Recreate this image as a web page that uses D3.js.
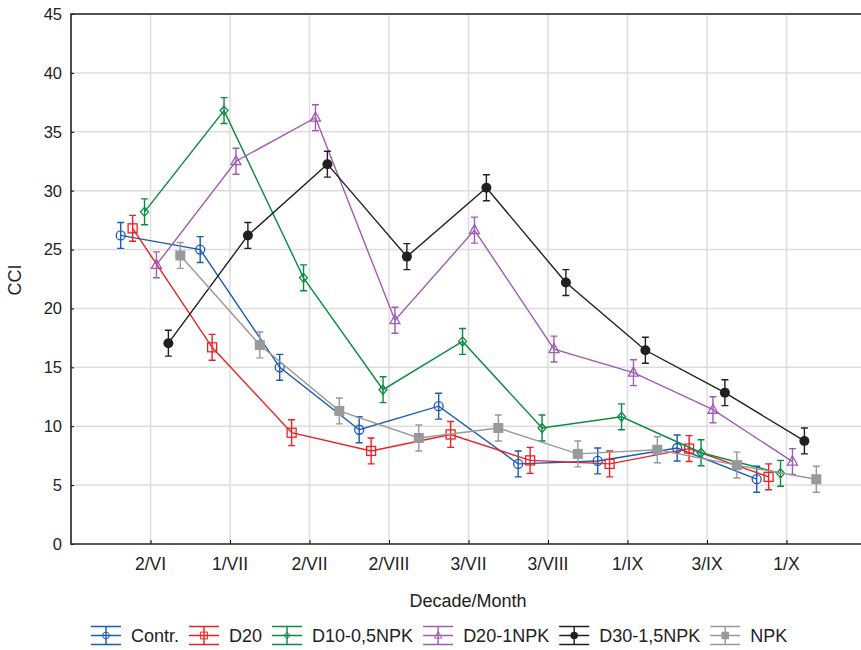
<!DOCTYPE html>
<html lang="en">
  <head>
    <meta charset="UTF-8" />
    <title>CCI by decade</title>
    <script src="https://cdn.jsdelivr.net/npm/d3@7"></script>
    <style>
      body { margin: 0; background: #fff; }
      text { font-family: "Liberation Sans", Arial, sans-serif; fill: #222; }
    </style>
  </head>

  <body>
    <div id="chart"></div>

    <script>
      var width = 861;
      var height = 650;
      var margin = { top: 14, right: -5, bottom: 106, left: 71 };

      // data
      var categories = ["2/VI", "1/VII", "2/VII", "2/VIII", "3/VII", "3/VIII", "1/IX", "3/IX", "1/X"];
      var seriesNames = ["Contr.", "D20", "D10-0,5NPK", "D20-1NPK", "D30-1,5NPK", "NPK"];
      var contr    = [26.2, 25.0, 15.0, 9.7, 11.7, 6.8, 7.05, 8.15, 5.5];
      var d20      = [26.8, 16.7, 9.45, 7.9, 9.3, 7.1, 6.8, 8.1, 5.7];
      var d10npk   = [28.2, 36.8, 22.6, 13.1, 17.2, 9.85, 10.8, 7.75, 6.0];
      var d20npk   = [23.7, 32.5, 36.2, 19.0, 26.65, 16.55, 14.55, 11.4, 7.0];
      var d30npk   = [17.05, 26.2, 32.25, 24.4, 30.25, 22.2, 16.45, 12.85, 8.75];
      var npk      = [24.5, 16.9, 11.3, 9.0, 9.85, 7.65, 8.0, 6.7, 5.5];
      var contrErr  = [1.1, 1.1, 1.1, 1.1, 1.1, 1.1, 1.1, 1.1, 1.1];
      var d20Err    = [1.1, 1.1, 1.1, 1.1, 1.1, 1.1, 1.1, 1.1, 1.1];
      var d10npkErr = [1.1, 1.1, 1.1, 1.1, 1.1, 1.1, 1.1, 1.1, 1.1];
      var d20npkErr = [1.1, 1.1, 1.1, 1.1, 1.1, 1.1, 1.1, 1.1, 1.1];
      var d30npkErr = [1.1, 1.1, 1.1, 1.1, 1.1, 1.1, 1.1, 1.1, 1.1];
      var npkErr    = [1.1, 1.1, 1.1, 1.1, 1.1, 1.1, 1.1, 1.1, 1.1];
      var yTicks = [0, 5, 10, 15, 20, 25, 30, 35, 40, 45];

      var seriesValues = [contr, d20, d10npk, d20npk, d30npk, npk];
      var seriesErrors = [contrErr, d20Err, d10npkErr, d20npkErr, d30npkErr, npkErr];
      var colors = ["#1a5bb5", "#ee2024", "#0c8a43", "#a05bb4", "#202020", "#999999"];
      var markers = ["circle", "square", "diamond", "triangle", "dot", "block"];
      // horizontal dodge, in category units
      var dodge = [-0.375, -0.225, -0.075, 0.075, 0.225, 0.375];

      var svg = d3.select("#chart")
                  .append("svg")
                  .attr("width", width)
                  .attr("height", height);

      var plotBottom = height - margin.bottom;

      var xScale = d3.scaleLinear()
                     .domain([-1, 9])
                     .range([margin.left, 866]);
      var yScale = d3.scaleLinear()
                     .domain([0, 45])
                     .range([plotBottom, margin.top]);

      // grid
      svg.append("g")
         .selectAll("line")
         .data(yTicks.slice(1))
         .enter()
         .append("line")
         .attr("x1", margin.left).attr("x2", width)
         .attr("y1", function(d){ return yScale(d); })
         .attr("y2", function(d){ return yScale(d); })
         .attr("stroke", "#dddddd").attr("stroke-width", 1.5);

      svg.append("g")
         .selectAll("line")
         .data(categories)
         .enter()
         .append("line")
         .attr("x1", function(d,i){ return xScale(i); })
         .attr("x2", function(d,i){ return xScale(i); })
         .attr("y1", margin.top).attr("y2", plotBottom)
         .attr("stroke", "#dddddd").attr("stroke-width", 1.5);

      // axes
      var yAxis = d3.axisRight(yScale).tickValues(yTicks).tickSize(3).tickFormat("");
      svg.append("g")
         .attr("transform", "translate(" + margin.left + ",0)")
         .call(yAxis)
         .call(function(g){ g.select(".domain").remove(); });

      svg.append("g")
         .selectAll("text")
         .data(yTicks)
         .enter()
         .append("text")
         .attr("x", 62)
         .attr("y", function(d){ return yScale(d); })
         .attr("dy", "0.36em")
         .attr("text-anchor", "end")
         .attr("font-size", "16.5px")
         .text(function(d){ return d; });

      var xAxis = d3.axisTop(xScale)
                    .tickValues(d3.range(categories.length))
                    .tickSize(4)
                    .tickFormat("");
      svg.append("g")
         .attr("transform", "translate(0," + plotBottom + ")")
         .call(xAxis)
         .call(function(g){ g.select(".domain").remove(); });

      svg.append("g")
         .selectAll("text")
         .data(categories)
         .enter()
         .append("text")
         .attr("x", function(d,i){ return xScale(i); })
         .attr("y", 570)
         .attr("text-anchor", "middle")
         .attr("font-size", "17.5px")
         .text(function(d){ return d; });

      // frame
      svg.append("path")
         .attr("d", "M" + width + "," + margin.top + "H" + margin.left + "V" + plotBottom + "H" + width)
         .attr("fill", "none")
         .attr("stroke", "#222")
         .attr("stroke-width", 1.6);

      svg.append("text")
         .attr("x", 468).attr("y", 607)
         .attr("text-anchor", "middle")
         .attr("font-size", "18px")
         .text("Decade/Month");

      svg.append("text")
         .attr("transform", "translate(21,280) rotate(-90)")
         .attr("text-anchor", "middle")
         .attr("font-size", "18px")
         .text("CCI");

      function drawMarker(g, type, color) {
        if (type == "circle") {
          g.append("circle").attr("r", 4.5).attr("fill", "none").attr("stroke", color).attr("stroke-width", 1.3);
        } else if (type == "dot") {
          g.append("circle").attr("r", 5).attr("fill", color);
        } else if (type == "square") {
          g.append("rect").attr("x", -4.5).attr("y", -4.5).attr("width", 9).attr("height", 9)
           .attr("fill", "none").attr("stroke", color).attr("stroke-width", 1.3);
        } else if (type == "block") {
          g.append("rect").attr("x", -5).attr("y", -5).attr("width", 10).attr("height", 10).attr("fill", color);
        } else if (type == "diamond") {
          g.append("path").attr("d", "M0,-4.5L4,0L0,4.5L-4,0Z")
           .attr("fill", "none").attr("stroke", color).attr("stroke-width", 1.3);
        } else if (type == "triangle") {
          g.append("path").attr("d", "M0,-5.5L5,3.5L-5,3.5Z")
           .attr("fill", "none").attr("stroke", color).attr("stroke-width", 1.3);
        }
      }

      var line = d3.line()
                   .x(function(d){ return d.x; })
                   .y(function(d){ return d.y; });

      seriesValues.forEach(function(vals, s){
        var color = colors[s];
        var pts = vals.map(function(v, i){
          return {
            x: xScale(i + dodge[s]),
            y: yScale(v),
            lo: yScale(v - seriesErrors[s][i]),
            hi: yScale(v + seriesErrors[s][i])
          };
        });
        var g = svg.append("g");
        g.append("path")
         .attr("d", line(pts))
         .attr("fill", "none")
         .attr("stroke", color)
         .attr("stroke-width", 1.4);

        var bars = g.selectAll(".bar")
                    .data(pts)
                    .enter()
                    .append("path")
                    .attr("d", function(d){
                      return "M" + d.x + "," + d.lo + "V" + d.hi +
                             "M" + (d.x - 3.5) + "," + d.hi + "H" + (d.x + 3.5) +
                             "M" + (d.x - 3.5) + "," + d.lo + "H" + (d.x + 3.5);
                    })
                    .attr("fill", "none")
                    .attr("stroke", color)
                    .attr("stroke-width", 1.4);

        pts.forEach(function(p){
          var m = g.append("g").attr("transform", "translate(" + p.x + "," + p.y + ")");
          drawMarker(m, markers[s], color);
        });
      });

      // legend
      var legend = svg.append("g");
      var lx = 91;
      var ly = 635.5;
      seriesNames.forEach(function(name, s){
        var color = colors[s];
        var item = legend.append("g");
        item.append("path")
            .attr("d", "M" + lx + "," + ly + "H" + (lx + 30) +
                       "M" + lx + "," + (ly - 9) + "H" + (lx + 30) +
                       "M" + lx + "," + (ly + 9) + "H" + (lx + 30) +
                       "M" + (lx + 15) + "," + (ly - 9) + "V" + (ly + 9))
            .attr("stroke", color)
            .attr("stroke-width", 1.4)
            .attr("fill", "none");
        var m = item.append("g").attr("transform", "translate(" + (lx + 15) + "," + ly + ") scale(0.75)");
        drawMarker(m, markers[s], color);
        var t = item.append("text")
                    .attr("x", lx + 40)
                    .attr("y", ly + 6)
                    .attr("font-size", "18px")
                    .text(name);
        lx = lx + 40 + t.node().getComputedTextLength() + 10;
      });
    </script>
  </body>
</html>
